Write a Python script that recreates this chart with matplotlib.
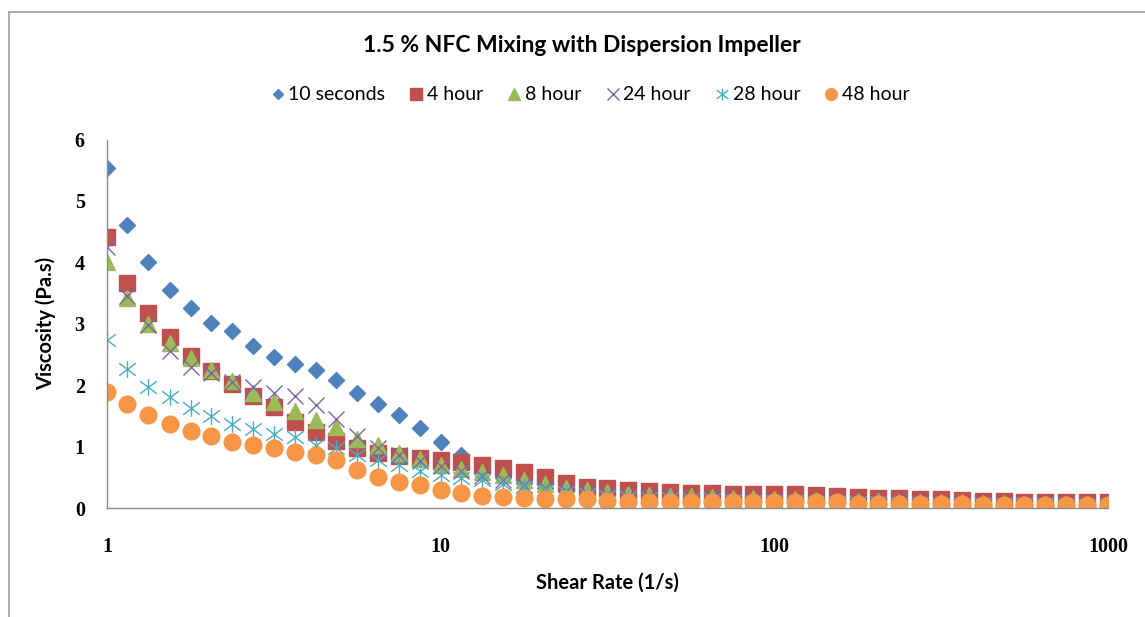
import matplotlib
matplotlib.use("Agg")
import matplotlib.pyplot as plt
from matplotlib.lines import Line2D
from matplotlib.path import Path

# shear rate (1/s), log spaced, 16 points per decade
shear_rate = [1.00, 1.15, 1.33, 1.54, 1.78, 2.05, 2.37, 2.74, 3.16, 3.65,
              4.22, 4.87, 5.62, 6.49, 7.50, 8.66, 10.0, 11.5, 13.3, 15.4,
              17.8, 20.5, 23.7, 27.4, 31.6, 36.5, 42.2, 48.7, 56.2, 64.9,
              75.0, 86.6, 100, 115, 133, 154, 178, 205, 237, 274,
              316, 365, 422, 487, 562, 649, 750, 866, 1000]

visc_10s = [5.53, 4.60, 4.00, 3.55, 3.26, 3.01, 2.88, 2.63, 2.46, 2.35,
            2.24, 2.08, 1.87, 1.70, 1.51, 1.31, 1.07, 0.87, 0.65, 0.50,
            0.40, 0.33, 0.28, 0.25, 0.22, 0.20, 0.19, 0.18, 0.17, 0.16,
            0.16, 0.15, 0.14, 0.14, 0.13, 0.12, 0.12, 0.11, 0.11, 0.10,
            0.10, 0.09, 0.09, 0.08, 0.08, 0.08, 0.07, 0.07, 0.07]

visc_4h = [4.42, 3.67, 3.17, 2.78, 2.47, 2.23, 2.02, 1.83, 1.64, 1.40,
           1.24, 1.09, 0.97, 0.90, 0.85, 0.81, 0.78, 0.75, 0.70, 0.65,
           0.58, 0.50, 0.41, 0.35, 0.32, 0.29, 0.27, 0.26, 0.25, 0.24,
           0.23, 0.23, 0.22, 0.22, 0.21, 0.20, 0.18, 0.17, 0.16, 0.15,
           0.14, 0.13, 0.12, 0.11, 0.10, 0.10, 0.09, 0.09, 0.09]

visc_8h = [4.00, 3.42, 3.00, 2.68, 2.45, 2.24, 2.07, 1.88, 1.72, 1.58,
           1.44, 1.32, 1.12, 1.02, 0.90, 0.80, 0.70, 0.64, 0.58, 0.53,
           0.46, 0.39, 0.33, 0.29, 0.26, 0.23, 0.21, 0.20, 0.19, 0.18,
           0.17, 0.16, 0.15, 0.14, 0.13, 0.12, 0.12, 0.11, 0.10, 0.10,
           0.09, 0.09, 0.08, 0.08, 0.07, 0.07, 0.07, 0.06, 0.06]

visc_24h = [4.25, 3.45, 2.98, 2.56, 2.30, 2.20, 2.05, 1.97, 1.88, 1.82,
            1.67, 1.45, 1.18, 0.97, 0.86, 0.76, 0.68, 0.60, 0.52, 0.45,
            0.38, 0.32, 0.28, 0.24, 0.22, 0.20, 0.19, 0.18, 0.17, 0.16,
            0.15, 0.14, 0.13, 0.12, 0.12, 0.11, 0.10, 0.10, 0.09, 0.09,
            0.08, 0.08, 0.07, 0.07, 0.07, 0.06, 0.06, 0.06, 0.05]

visc_28h = [2.73, 2.27, 1.97, 1.80, 1.63, 1.50, 1.37, 1.29, 1.21, 1.15,
            1.03, 0.97, 0.86, 0.78, 0.70, 0.60, 0.54, 0.49, 0.45, 0.39,
            0.35, 0.30, 0.26, 0.23, 0.20, 0.18, 0.17, 0.16, 0.15, 0.14,
            0.13, 0.12, 0.12, 0.11, 0.10, 0.10, 0.09, 0.09, 0.08, 0.08,
            0.07, 0.07, 0.07, 0.06, 0.06, 0.06, 0.05, 0.05, 0.05]

visc_48h = [1.89, 1.70, 1.51, 1.36, 1.26, 1.17, 1.07, 1.02, 0.97, 0.91,
            0.86, 0.78, 0.62, 0.50, 0.42, 0.37, 0.30, 0.24, 0.20, 0.18,
            0.16, 0.15, 0.15, 0.14, 0.12, 0.10, 0.09, 0.09, 0.09, 0.09,
            0.09, 0.09, 0.09, 0.09, 0.09, 0.09, 0.07, 0.07, 0.07, 0.07,
            0.07, 0.07, 0.05, 0.05, 0.05, 0.05, 0.05, 0.05, 0.05]

series_labels = ["10 seconds", "4 hour", "8 hour", "24 hour", "28 hour", "48 hour"]
x_ticks = [1, 10, 100, 1000]
y_ticks = [0, 1, 2, 3, 4, 5, 6]

# excel style "star" marker: vertical bar plus an x
star = Path([(0, -1), (0, 1), (-1, -0.75), (1, 0.75), (-1, 0.75), (1, -0.75)],
            [Path.MOVETO, Path.LINETO, Path.MOVETO, Path.LINETO, Path.MOVETO, Path.LINETO])

styles = [
    dict(marker="D", ms=8, color="#4F81BD"),
    dict(marker="s", ms=11.5, color="#C0504D"),
    dict(marker="^", ms=11.5, color="#9BBB59"),
    dict(marker="x", ms=11.5, color="#8064A2", mew=1.0),
    dict(marker=star, ms=12, color="#4BACC6", mew=1.0),
    dict(marker="o", ms=12, color="#F79646"),
]

W, H = 1145, 617
X0, X1, Y0, Y1 = 107, 1108, 508, 139.5
fig = plt.figure(figsize=(W / 100, H / 100), dpi=100)
ax = fig.add_axes([X0 / W, 1 - Y0 / H, (X1 - X0) / W, (Y0 - Y1) / H])

all_series = [visc_10s, visc_4h, visc_8h, visc_24h, visc_28h, visc_48h]
for vals, lab, st in zip(all_series, series_labels, styles):
    ax.plot(shear_rate, vals, linestyle="none", label=lab, **st)

ax.set_xscale("log")
ax.set_xlim(1, 1000)
ax.set_ylim(0, 6)
ax.set_xticks(x_ticks)
ax.set_xticklabels([str(t) for t in x_ticks], fontfamily="Liberation Serif",
                   fontweight="bold", fontsize=14.5)
ax.minorticks_off()
ax.set_yticks(y_ticks)
ax.set_yticklabels([str(t) for t in y_ticks], fontfamily="Liberation Serif",
                   fontweight="bold", fontsize=14.5)
ax.tick_params(axis="x", length=0, pad=21)
ax.tick_params(axis="y", length=0, pad=16)

for side in ["top", "right"]:
    ax.spines[side].set_visible(False)
for side in ["left", "bottom"]:
    ax.spines[side].set_color("#8C8C8C")
    ax.spines[side].set_linewidth(1.0)

ax.set_xlabel("Shear Rate (1/s)", fontfamily="Lato", fontweight="bold", fontsize=14.5)
ax.set_ylabel("Viscosity (Pa.s)", fontfamily="Lato", fontweight="bold", fontsize=14.5)
ax.xaxis.set_label_coords(0.5, -(583 - Y0) / (Y0 - Y1))
ax.xaxis.label.set_va("center")
ax.yaxis.set_label_coords(-(X0 - 46) / (X1 - X0), 0.5)
ax.yaxis.label.set_va("center")

fig.text(582 / W, 1 - 45 / H, "1.5 % NFC Mixing with Dispersion Impeller",
         ha="center", va="center", fontfamily="Lato", fontweight="bold", fontsize=16.5)

fig.legend(loc="center", bbox_to_anchor=(0.515, 1 - 95 / H), ncol=6, frameon=False,
           prop={"family": "Lato", "size": 14}, handlelength=0.8, handletextpad=0.15,
           columnspacing=1.2, markerscale=0.7)

# chart frame (only top and left edges show in the crop)
fig.add_artist(Line2D([9 / W, 1], [1 - 12 / H, 1 - 12 / H], color="#A0A0A0", lw=1.2))
fig.add_artist(Line2D([9 / W, 9 / W], [0, 1 - 12 / H], color="#A0A0A0", lw=1.2))

fig.savefig("out.png", dpi=100)
